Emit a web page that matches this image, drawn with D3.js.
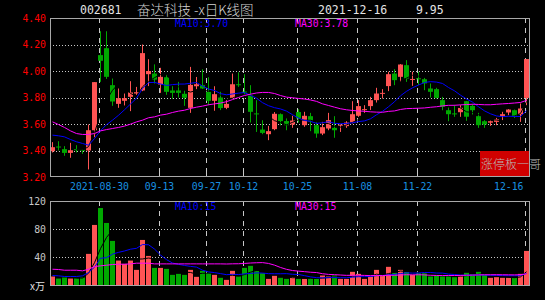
<!DOCTYPE html>
<html>
<head>
<meta charset="utf-8">
<script src="https://cdn.jsdelivr.net/npm/d3@7"></script>
<style>
	body {
		margin: 0;
		background: #000;
	}

	svg {
		display: block;
		font-family: "DejaVu Sans Mono", "Liberation Mono", monospace;
	}
</style>
</head>

<body>
<div id="chart"></div>

<script>
	// daily candles, 2021-08-18 .. 2021-12-16 (80 sessions)
	var opens = [3.395, 3.430, 3.410, 3.382, 3.410, 3.405, 3.400, 3.553, 4.120, 4.172,
		3.893, 3.752, 3.775, 3.805, 3.830, 3.853, 3.976, 3.981, 3.898, 3.953,
		3.853, 3.853, 3.828, 3.722, 3.885, 3.893, 3.843, 3.775, 3.800, 3.722,
		3.797, 3.900, 3.845, 3.817, 3.680, 3.558, 3.523, 3.561, 3.674, 3.622,
		3.596, 3.690, 3.591, 3.659, 3.591, 3.528, 3.566, 3.571, 3.590, 3.584,
		3.611, 3.662, 3.707, 3.735, 3.780, 3.833, 3.886, 3.981, 3.956, 4.044,
		3.935, 3.945, 3.938, 3.868, 3.863, 3.780, 3.704, 3.680, 3.689, 3.772,
		3.737, 3.659, 3.621, 3.610, 3.616, 3.661, 3.687, 3.704, 3.672, 3.797];
	var closes = [3.425, 3.425, 3.382, 3.402, 3.405, 3.403, 3.553, 3.916, 4.077, 3.956,
		3.770, 3.795, 3.795, 3.838, 3.840, 4.135, 4.000, 3.935, 3.956, 3.843,
		3.835, 3.835, 3.798, 3.895, 3.900, 3.868, 3.775, 3.825, 3.720, 3.752,
		3.900, 3.895, 3.840, 3.692, 3.678, 3.533, 3.546, 3.677, 3.622, 3.591,
		3.626, 3.642, 3.662, 3.621, 3.528, 3.576, 3.629, 3.553, 3.595, 3.611,
		3.674, 3.735, 3.712, 3.780, 3.830, 3.835, 3.976, 3.931, 4.049, 3.943,
		3.940, 3.943, 3.906, 3.843, 3.797, 3.730, 3.674, 3.679, 3.722, 3.655,
		3.704, 3.591, 3.596, 3.621, 3.636, 3.674, 3.709, 3.662, 3.717, 4.090];
	var highs = [3.463, 3.470, 3.433, 3.458, 3.440, 3.405, 3.596, 3.916, 4.300, 4.300,
		3.943, 3.868, 3.830, 3.923, 3.880, 4.200, 4.089, 4.050, 4.024, 3.973,
		3.885, 3.918, 3.855, 4.031, 3.955, 4.013, 3.953, 3.885, 3.843, 3.780,
		3.981, 3.990, 3.976, 3.893, 3.780, 3.628, 3.586, 3.690, 3.680, 3.642,
		3.662, 3.712, 3.692, 3.684, 3.616, 3.616, 3.684, 3.659, 3.596, 3.621,
		3.772, 3.780, 3.742, 3.805, 3.873, 3.863, 3.994, 4.014, 4.052, 4.082,
		3.994, 3.994, 3.948, 3.906, 3.873, 3.805, 3.724, 3.747, 3.742, 3.774,
		3.752, 3.684, 3.629, 3.626, 3.646, 3.692, 3.712, 3.709, 3.755, 4.090];
	var lows = [3.385, 3.400, 3.360, 3.345, 3.385, 3.375, 3.257, 3.500, 3.918, 3.940,
		3.737, 3.722, 3.740, 3.697, 3.820, 3.848, 3.886, 3.906, 3.835, 3.820,
		3.790, 3.800, 3.737, 3.684, 3.863, 3.863, 3.742, 3.700, 3.705, 3.712,
		3.792, 3.880, 3.818, 3.611, 3.540, 3.523, 3.478, 3.553, 3.590, 3.553,
		3.571, 3.611, 3.579, 3.546, 3.496, 3.516, 3.553, 3.496, 3.540, 3.571,
		3.604, 3.654, 3.684, 3.704, 3.762, 3.792, 3.848, 3.893, 3.918, 3.918,
		3.888, 3.893, 3.855, 3.800, 3.792, 3.704, 3.621, 3.654, 3.654, 3.624,
		3.672, 3.571, 3.571, 3.586, 3.591, 3.629, 3.667, 3.646, 3.616, 3.742];
	// volume, x10k lots
	var volumes = [12.8, 9.9, 11.3, 9.9, 9.9, 11.3, 44.9, 86, 110, 88.8,
		63.3, 35.4, 30.7, 35.4, 22.2, 64.7, 42, 25, 25, 23.6,
		15.1, 16.5, 15.1, 22.2, 12.3, 20.8, 17.5, 15.1, 10.9, 8,
		20.8, 12.8, 25, 27.9, 20.8, 17.5, 9.4, 13.7, 10.9, 9.4,
		11.8, 9.4, 9.4, 10.4, 9.4, 14.2, 12.8, 14.2, 9.4, 9.4,
		19.4, 16.5, 9.4, 12.8, 22.2, 13.7, 26.5, 18, 22.2, 19.4,
		15.1, 17.5, 17.5, 12.8, 14.2, 12.8, 12.8, 11.8, 14.2, 18,
		16.1, 19.4, 15.1, 10.9, 11.8, 10.9, 10.9, 10.9, 16.5, 49.1];

	// averages before the window fills up (need earlier sessions)
	var ma10Head = [3.516, 3.511, 3.503, 3.483, 3.466, 3.453, 3.440, 3.490, 3.550];
	var ma30Head = [3.616, 3.596, 3.574, 3.548, 3.528, 3.521, 3.521, 3.528, 3.548, 3.558,
		3.566, 3.574, 3.584, 3.599, 3.616, 3.629, 3.647, 3.654, 3.667, 3.674,
		3.687, 3.697, 3.704, 3.717, 3.727, 3.735, 3.745, 3.752, 3.758];
	var vma10Head = [14.2, 13.7, 12.8, 12.8, 12.8, 13.7, 18.4, 26, 38.7];
	var vma30Head = [23.1, 22.7, 21.7, 21.7, 21.7, 20.8, 23.1, 26.9, 27.9, 28.8,
		29.8, 30.2, 30.2, 30.7, 31.7, 31.7, 31.7, 30.7, 30.7, 30.7,
		30.7, 30.7, 30.7, 30.7, 30.7, 30.7, 30.7, 30.7, 30.7];

	var dateLabels = ['2021-08-30', '09-13', '09-27', '10-12', '10-25', '11-08', '11-22', '12-16'];
	var dateIdx = [8, 18, 26, 32, 41, 51, 61, 79];
	var priceTicks = [4.40, 4.20, 4.00, 3.80, 3.60, 3.40, 3.20];
	var volTicks = [120, 80, 40];

	var RED = '#ff5454', GREEN = '#00a800', GRID = '#c8c8c8', FRAME = '#a8a8a8';

	function movingAvg(vals, n, head) {
		return vals.map(function (v, i) {
			if (i >= n - 1) return d3.mean(vals.slice(i - n + 1, i + 1));
			return head ? head[i] : null;
		});
	}

	var ma5 = movingAvg(closes, 5), ma10 = movingAvg(closes, 10, ma10Head), ma30 = movingAvg(closes, 30, ma30Head);
	var vma5 = movingAvg(volumes, 5), vma10 = movingAvg(volumes, 10, vma10Head), vma30 = movingAvg(volumes, 30, vma30Head);

	var width = 545, height = 300;
	var x0 = 50, x1 = 529.5;

	var x = d3.scaleLinear().domain([0, 79]).range([52.5, 526.5]);
	var y = d3.scaleLinear().domain([3.2, 4.4]).range([177, 18]);
	var yv = d3.scaleLinear().domain([0, 120]).range([285.5, 201]);

	var svg = d3.select('#chart').append('svg')
		.attr('width', width)
		.attr('height', height)
		.style('background', '#000');

	// title
	var title = svg.append('g').attr('fill', '#e4e4e4').style('font-size', '11.5px');
	title.append('text').attr('x', 80).attr('y', 10).attr('dy', '.36em').text('002681');
	title.append('text').attr('x', 137).attr('y', 10).attr('dy', '.36em')
		.attr('fill', '#d4d4d4')
		.style('font-family', '"Noto Sans CJK SC", "DejaVu Sans Mono", monospace').style('font-size', '13.5px')
		.style('font-weight', 300)
		.text('奋达科技 -x日K线图');
	title.append('text').attr('x', 318).attr('y', 10).attr('dy', '.36em').text('2021-12-16');
	title.append('text').attr('x', 416).attr('y', 10).attr('dy', '.36em').text('9.95');

	function gridX(i) { return Math.round(x(i) - 2) + 0.5; }

	// ---- price panel ----
	var pg = svg.append('g');

	pg.selectAll('line.hg')
		.data(priceTicks.slice(1, -1))
		.enter().append('line')
		.attr('x1', x0).attr('x2', x1)
		.attr('y1', function (d) { return Math.round(y(d)) + 0.5; })
		.attr('y2', function (d) { return Math.round(y(d)) + 0.5; })
		.attr('stroke', GRID).attr('stroke-dasharray', '1,2');

	pg.selectAll('line.vg')
		.data(dateIdx)
		.enter().append('line')
		.attr('x1', gridX).attr('x2', gridX)
		.attr('y1', y(4.4)).attr('y2', y(3.2))
		.attr('stroke', GRID).attr('stroke-dasharray', '5,5');

	pg.selectAll('line.tk')
		.data(dateIdx)
		.enter().append('line')
		.attr('x1', gridX).attr('x2', gridX)
		.attr('y1', y(3.2) - 5).attr('y2', y(3.2))
		.attr('stroke', GRID);

	pg.selectAll('text.py')
		.data(priceTicks)
		.enter().append('text')
		.attr('x', 46).attr('y', function (d) { return y(d); })
		.attr('dy', '.36em').attr('text-anchor', 'end')
		.attr('fill', '#ff0000').style('font-size', '9.8px')
		.text(function (d) { return d.toFixed(2); });

	pg.selectAll('text.dx')
		.data(dateIdx)
		.enter().append('text')
		.attr('x', function (d, i) { return i == dateIdx.length - 1 ? x1 - 6 : gridX(d); })
		.attr('y', 186.5).attr('dy', '.36em')
		.attr('text-anchor', function (d, i) { return i == dateIdx.length - 1 ? 'end' : 'middle'; })
		.attr('fill', '#1890e0').style('font-size', '9.8px')
		.text(function (d, i) { return dateLabels[i]; });

	var idx = d3.range(closes.length);
	function col(i) { return closes[i] >= opens[i] ? RED : GREEN; }

	var candle = pg.selectAll('g.c')
		.data(idx)
		.enter().append('g');

	candle.append('line')
		.attr('x1', function (i) { return x(i); }).attr('x2', function (i) { return x(i); })
		.attr('y1', function (i) { return y(highs[i]); })
		.attr('y2', function (i) { return y(lows[i]); })
		.attr('stroke', col);

	candle.append('rect')
		.attr('x', function (i) { return x(i) - 2.5; })
		.attr('width', 5)
		.attr('y', function (i) { return y(Math.max(opens[i], closes[i])); })
		.attr('height', function (i) { return Math.max(1, Math.abs(y(opens[i]) - y(closes[i]))); })
		.attr('fill', col);

	function maLine(scale) {
		return d3.line()
			.defined(function (d) { return d != null; })
			.x(function (d, i) { return x(i); })
			.y(function (d) { return scale(d); });
	}

	pg.append('path').attr('d', maLine(y)(ma5)).attr('fill', 'none').attr('stroke', '#000');
	pg.append('path').attr('d', maLine(y)(ma10)).attr('fill', 'none').attr('stroke', '#0000ff');
	pg.append('path').attr('d', maLine(y)(ma30)).attr('fill', 'none').attr('stroke', '#ff00ff');

	pg.append('text').attr('x', 175).attr('y', 23.5).attr('dy', '.36em')
		.attr('fill', '#0000ff').style('font-size', '9.8px')
		.text('MA10:' + ma10[ma10.length - 1].toFixed(2));
	pg.append('text').attr('x', 295).attr('y', 23.5).attr('dy', '.36em')
		.attr('fill', '#ff00ff').style('font-size', '9.8px')
		.text('MA30:' + ma30[ma30.length - 1].toFixed(2));

	// badge
	pg.append('rect').attr('x', 480).attr('y', 151).attr('width', 50).attr('height', 26).attr('fill', '#d00000');
	pg.append('text').attr('x', 481).attr('y', 164.5).attr('dy', '.36em')
		.attr('fill', '#b8b8b8')
		.style('font-family', '"Noto Sans CJK SC", sans-serif').style('font-size', '12px')
		.style('font-weight', 300)
		.text('涨停板一哥');

	pg.append('rect')
		.attr('x', x0 + 0.5).attr('y', 18.5)
		.attr('width', x1 - x0 - 0.5).attr('height', 158)
		.attr('fill', 'none').attr('stroke', FRAME);

	// ---- volume panel ----
	var vg = svg.append('g');

	vg.selectAll('line.hg')
		.data(volTicks.slice(1))
		.enter().append('line')
		.attr('x1', x0).attr('x2', x1)
		.attr('y1', function (d) { return Math.round(yv(d)) + 0.5; })
		.attr('y2', function (d) { return Math.round(yv(d)) + 0.5; })
		.attr('stroke', GRID).attr('stroke-dasharray', '1,2');

	vg.selectAll('line.vg')
		.data(dateIdx)
		.enter().append('line')
		.attr('x1', gridX).attr('x2', gridX)
		.attr('y1', yv(120)).attr('y2', yv(0))
		.attr('stroke', GRID).attr('stroke-dasharray', '5,5');

	vg.selectAll('text.vy')
		.data(volTicks)
		.enter().append('text')
		.attr('x', 46).attr('y', function (d) { return yv(d); })
		.attr('dy', '.36em').attr('text-anchor', 'end')
		.attr('fill', '#c8c8c8').style('font-size', '9.8px')
		.text(function (d) { return d; });

	vg.append('text').attr('x', 30).attr('y', 286).attr('dy', '.36em')
		.attr('fill', '#e0e0e0').style('font-size', '10px')
		.style('font-family', '"Noto Sans CJK SC", sans-serif')
		.text('x万');

	vg.selectAll('rect.bar')
		.data(idx)
		.enter().append('rect')
		.attr('x', function (i) { return x(i) - 2.5; })
		.attr('width', 5)
		.attr('y', function (i) { return yv(volumes[i]); })
		.attr('height', function (i) { return yv(0) - yv(volumes[i]); })
		.attr('fill', col);

	vg.append('path').attr('d', maLine(yv)(vma5)).attr('fill', 'none').attr('stroke', '#000');
	vg.append('path').attr('d', maLine(yv)(vma10)).attr('fill', 'none').attr('stroke', '#0000ff');
	vg.append('path').attr('d', maLine(yv)(vma30)).attr('fill', 'none').attr('stroke', '#ff00ff');

	vg.append('text').attr('x', 175).attr('y', 206).attr('dy', '.36em')
		.attr('fill', '#0000ff').style('font-size', '9.8px').text('MA10:15');
	vg.append('text').attr('x', 295).attr('y', 206).attr('dy', '.36em')
		.attr('fill', '#ff00ff').style('font-size', '9.8px').text('MA30:15');

	vg.append('rect')
		.attr('x', x0 + 0.5).attr('y', 201.5)
		.attr('width', x1 - x0 - 0.5).attr('height', 84)
		.attr('fill', 'none').attr('stroke', FRAME);
</script>
</body>
</html>
